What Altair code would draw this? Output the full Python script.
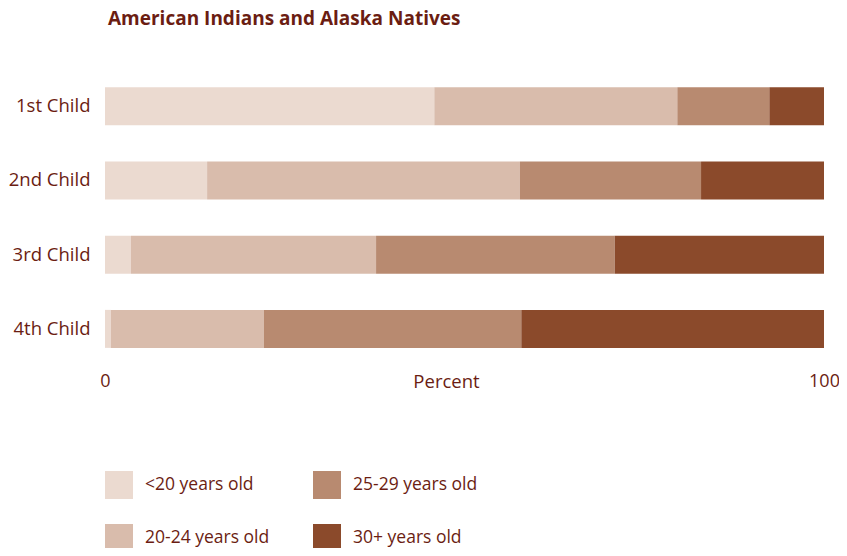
import altair as alt
import pandas as pd

children = ["1st Child", "2nd Child", "3rd Child", "4th Child"]
groups = ["<20 years old", "20-24 years old", "25-29 years old", "30+ years old"]
under20 = [45.8, 14.2, 3.6, 0.8]
age20_24 = [33.8, 43.5, 34.1, 21.3]
age25_29 = [12.8, 25.2, 33.2, 35.8]
age30plus = [7.6, 17.1, 29.1, 42.1]
colors = ["#ebdad0", "#d9bcac", "#b88a70", "#8b4a2b"]

TEXT = "#6b1d12"
FONT = "Open Sans"

rows = []
for gi, (g, vals) in enumerate(zip(groups, [under20, age20_24, age25_29, age30plus])):
    for c, v in zip(children, vals):
        rows.append({"child": c, "group": g, "value": v, "order": gi})
df = pd.DataFrame(rows)

chart = alt.Chart(df).mark_bar(size=38).encode(
    y=alt.Y("child:N", sort=children,
            scale=alt.Scale(paddingInner=0.49, paddingOuter=0.245),
            axis=alt.Axis(title=None, domain=False, ticks=False, labelPadding=15,
                          labelFontSize=18.5, labelColor=TEXT, labelFont=FONT)),
    x=alt.X("value:Q", stack="zero", scale=alt.Scale(domain=[0, 100], nice=False),
            axis=alt.Axis(title="Percent", values=[0, 100], grid=False, domain=False,
                          ticks=False, tickSize=0, labelPadding=6, labelFontSize=18,
                          labelColor=TEXT, labelFont=FONT, labelFlush=False,
                          titleFontSize=18.5, titleColor=TEXT, titleFont=FONT,
                          titleFontWeight="normal", titleBaseline="top",
                          titleX=341, titleY=6, titleAnchor="start", titleAlign="center")),
    color=alt.Color("group:N",
                    scale=alt.Scale(domain=groups, range=colors),
                    legend=alt.Legend(title=None, orient="none", legendX=0, legendY=402,
                                      columns=2, symbolType="square", symbolSize=784,
                                      symbolStrokeWidth=0, symbolOpacity=1,
                                      labelFontSize=17.5, labelColor=TEXT, labelFont=FONT,
                                      labelOffset=12, rowPadding=25, columnPadding=43,
                                      labelLimit=300)),
    order=alt.Order("order:Q", sort="ascending"),
).properties(
    width=719,
    height=297,
    title=alt.TitleParams("American Indians and Alaska Natives", anchor="start",
                          frame="group", fontSize=19, fontWeight="bold", color=TEXT,
                          font=FONT, offset=40, dx=3),
    autosize=alt.AutoSizeParams(type="none"),
    padding={"left": 97, "top": 61, "right": 15, "bottom": 182},
).configure_view(stroke=None)

chart.save("out.html", embed_options={"renderer": "svg", "actions": False})
